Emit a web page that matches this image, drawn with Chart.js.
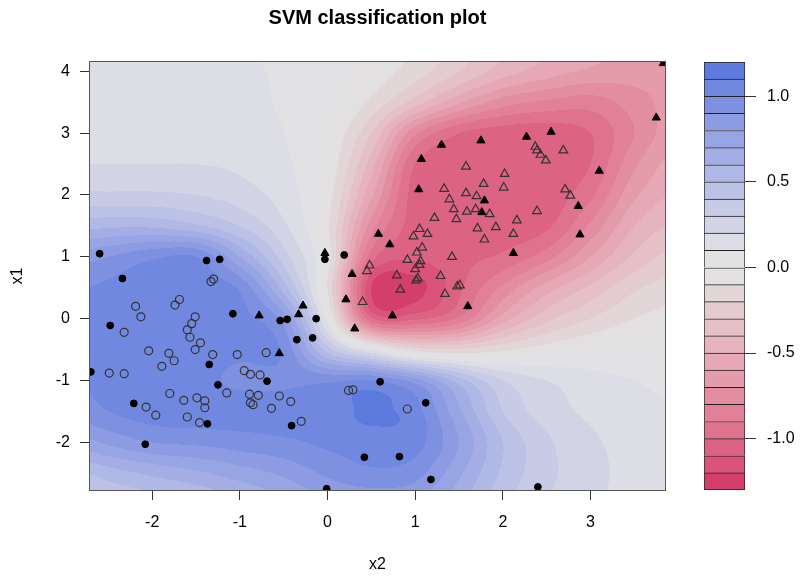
<!DOCTYPE html>
<html>
<head>
<meta charset="utf-8">
<script src="https://cdn.jsdelivr.net/npm/chart.js@4.4.1/dist/chart.umd.min.js"></script>
<style>
  html, body { margin: 0; padding: 0; background: #fff; }
  #wrap { position: relative; width: 801px; height: 576px; overflow: hidden; }
  #wrap canvas { position: absolute; top: 0; }
</style>
</head>
<body>
<div id="wrap">
  <canvas id="svmChart" width="801" height="576" style="left:0"></canvas>
  <canvas id="keyChart" width="111" height="576" style="left:690px"></canvas>
</div>
<script>
// axes: x2 across, x1 up
const x2Range = [-2.71, 3.85];
const x1Range = [-2.77, 4.15];
const x2Ticks = [-2, -1, 0, 1, 2, 3];
const x1Ticks = [-2, -1, 0, 1, 2, 3, 4];

// decision values, on a 0.5 grid
const gridX2 = [-3, -2.5, -2, -1.5, -1, -0.5, 0, 0.5, 1, 1.5, 2, 2.5, 3, 3.5, 4];
const gridX1 = [4.5, 4, 3.5, 3, 2.5, 2, 1.5, 1, 0.5, 0, -0.5, -1, -1.5, -2, -2.5, -3];
const gridZ = [
  [0.10, 0.10, 0.10, 0.10, 0.10, 0.08, 0.05, -0.03, -0.12, -0.25, -0.38, -0.48, -0.55, -0.60, -0.62],
  [0.12, 0.12, 0.12, 0.12, 0.11, 0.09, 0.05, -0.04, -0.15, -0.30, -0.45, -0.55, -0.62, -0.65, -0.65],
  [0.12, 0.12, 0.13, 0.13, 0.12, 0.09, 0.03, -0.12, -0.35, -0.58, -0.75, -0.82, -0.85, -0.75, -0.65],
  [0.13, 0.14, 0.15, 0.15, 0.14, 0.10, 0.00, -0.30, -0.78, -1.00, -1.05, -1.06, -1.00, -0.80, -0.62],
  [0.20, 0.20, 0.20, 0.20, 0.18, 0.12, -0.02, -0.45, -1.00, -1.06, -1.06, -1.06, -1.00, -0.72, -0.55],
  [0.32, 0.32, 0.32, 0.30, 0.25, 0.15, -0.05, -0.58, -1.05, -1.07, -1.07, -1.06, -0.92, -0.62, -0.48],
  [0.55, 0.58, 0.58, 0.52, 0.40, 0.22, -0.08, -0.75, -1.05, -1.06, -1.06, -1.02, -0.78, -0.50, -0.38],
  [0.82, 0.90, 0.98, 1.00, 0.70, 0.35, -0.05, -0.95, -1.08, -1.03, -0.98, -0.84, -0.60, -0.38, -0.25],
  [0.98, 1.02, 1.05, 1.05, 0.98, 0.55, -0.10, -1.20, -1.24, -1.02, -0.78, -0.55, -0.38, -0.22, -0.15],
  [1.00, 1.04, 1.05, 1.05, 1.03, 0.85, 0.05, -0.98, -1.02, -0.88, -0.55, -0.33, -0.20, -0.10, -0.05],
  [1.00, 1.05, 1.06, 1.05, 1.02, 0.98, 0.45, 0.10, -0.15, -0.18, -0.12, -0.05, 0.00, 0.02, 0.05],
  [0.98, 1.04, 1.05, 1.03, 0.98, 0.98, 0.98, 1.00, 0.85, 0.55, 0.30, 0.20, 0.14, 0.10, 0.08],
  [0.90, 1.00, 1.05, 1.06, 1.05, 1.05, 1.05, 1.12, 1.04, 0.72, 0.40, 0.25, 0.18, 0.13, 0.10],
  [0.72, 0.82, 0.90, 0.92, 0.95, 0.98, 1.02, 1.05, 1.04, 0.80, 0.50, 0.32, 0.22, 0.16, 0.12],
  [0.45, 0.55, 0.62, 0.68, 0.75, 0.82, 0.92, 0.98, 0.94, 0.72, 0.48, 0.33, 0.23, 0.17, 0.13],
  [0.30, 0.40, 0.45, 0.50, 0.58, 0.68, 0.78, 0.82, 0.80, 0.62, 0.42, 0.30, 0.22, 0.16, 0.12]
];

// contour levels and key
const levels = [-1.3, -1.2, -1.1, -1.0, -0.9, -0.8, -0.7, -0.6, -0.5, -0.4, -0.3, -0.2, -0.1,
  0, 0.1, 0.2, 0.3, 0.4, 0.5, 0.6, 0.7, 0.8, 0.9, 1.0, 1.1, 1.2];
const keyTicks = [-1, -0.5, 0, 0.5, 1];
const levelColors = [
  '#d43e6a', '#d95478', '#dc6482', '#df728c', '#e18096', '#e38ea0', '#e49baa', '#e5a8b4',
  '#e5b4be', '#e5c0c7', '#e4cbd0', '#e2d6d9', '#e3e0e1', '#e2e2e4', '#dcdde5', '#d2d4e6',
  '#c8cbe6', '#bcc1e6', '#b0b8e6', '#a4aee5', '#98a5e4', '#8c9be2', '#7e91e1', '#7088e0', '#5d7ade'
];

// class +1, not support vectors (open circles)
const circX2 = [-2.19, -2.13, -2.32, -1.69, -1.74, -1.30, -1.33, -1.51, -1.55, -1.60, -1.57, -1.45,
  -1.51, -1.31, -2.04, -1.81, -1.75, -1.89, -1.03, -0.70, -2.49, -2.32, -0.95, -0.88, -0.77, -1.80,
  -1.64, -1.49, -1.40, -1.40, -1.15, -0.89, -0.79, -0.88, -0.85, -0.55, -0.42, -0.64, -2.07, -1.96,
  -1.60, -1.46, -0.30, 0.24, 0.29, 0.91];
const circX1 = [0.20, 0.03, -0.22, 0.31, 0.22, 0.64, 0.60, 0.03, -0.08, -0.18, -0.30, -0.39,
  -0.50, -0.58, -0.52, -0.56, -0.68, -0.77, -0.58, -0.55, -0.88, -0.89, -0.84, -0.90, -0.91, -1.21,
  -1.32, -1.28, -1.33, -1.44, -1.20, -1.22, -1.24, -1.36, -1.39, -1.25, -1.34, -1.45, -1.43, -1.56,
  -1.59, -1.68, -1.66, -1.16, -1.15, -1.46];

// class +1 support vectors (filled circles)
const circSvX2 = [-2.60, -1.38, -1.23, -2.34, -1.08, -2.48, -0.54, -0.46, -0.13, -0.35, -0.17, -1.35,
  -2.70, -0.69, -1.25, 0.60, 1.12, -2.21, -1.37, -0.41, -2.08, 0.42, 0.82, 1.18, -0.01, 2.40, -0.03, 0.19];
const circSvX1 = [1.05, 0.94, 0.96, 0.65, 0.08, -0.11, -0.03, -0.01, 0.00, -0.34, -0.31, -0.74,
  -0.86, -1.01, -1.07, -1.02, -1.36, -1.37, -1.70, -1.73, -2.03, -2.24, -2.23, -2.60, -2.75, -2.72, 0.96, 1.03];

// class -1, not support vectors (open triangles)
const triX2 = [2.37, 2.39, 2.43, 2.49, 2.69, 1.58, 2.02, 1.78, 2.01, 1.33, 1.58, 1.70, 1.39, 2.71,
  2.77, 1.44, 1.59, 1.69, 1.85, 2.39, 1.22, 1.47, 2.16, 1.71, 1.92, 1.05, 1.14, 0.98, 1.79, 2.12,
  1.08, 1.02, 1.42, 0.91, 1.06, 1.00, 0.48, 0.45, 0.79, 1.29, 1.03, 1.01, 0.83, 1.48, 1.51, 1.34, 0.40, 1.05];
const triX1 = [2.78, 2.72, 2.65, 2.56, 2.72, 2.46, 2.34, 2.18, 2.12, 2.10, 2.03, 1.98, 1.93, 2.09,
  1.99, 1.77, 1.73, 1.77, 1.69, 1.74, 1.63, 1.61, 1.59, 1.46, 1.48, 1.45, 1.37, 1.33, 1.28, 1.37,
  1.15, 1.07, 1.00, 0.95, 0.93, 0.80, 0.86, 0.77, 0.70, 0.69, 0.65, 0.62, 0.47, 0.52, 0.54, 0.40, 0.27, 0.87];

// class -1 support vectors (filled triangles)
const triSvX2 = [1.30, 1.75, 2.27, 2.55, 1.07, 3.10, 1.04, 1.79, 1.76, 2.86, 2.88, 2.12, 0.58, 0.71,
  0.28, 0.21, 0.74, 1.60, 0.31, -0.28, -0.33, -0.78, -0.55, 3.75, -0.03, 3.83];
const triSvX1 = [2.81, 2.88, 2.94, 3.02, 2.58, 2.39, 2.09, 1.91, 1.72, 1.82, 1.36, 1.06, 1.37, 1.20,
  0.72, 0.31, 0.05, 0.20, -0.16, 0.21, 0.07, 0.05, -0.56, 3.25, 1.06, 4.13];

const FONT = "'Liberation Sans', Arial, Helvetica, sans-serif";
Chart.defaults.font.family = FONT;
Chart.defaults.color = '#000';

function cubic(p0, p1, p2, p3, t) {
  return p1 + 0.5 * t * (p2 - p0 + t * (2 * p0 - 5 * p1 + 4 * p2 - p3 + t * (3 * (p1 - p2) + p3 - p0)));
}

// smooth surface through the grid values
function surface(u, v) {
  const fx = (u - gridX2[0]) / (gridX2[1] - gridX2[0]);
  const fy = (v - gridX1[0]) / (gridX1[1] - gridX1[0]);
  const ix = Math.floor(fx), iy = Math.floor(fy);
  const tx = fx - ix, ty = fy - iy;
  const nr = gridZ.length, nc = gridZ[0].length;
  const at = (r, c) => gridZ[Math.min(nr - 1, Math.max(0, r))][Math.min(nc - 1, Math.max(0, c))];
  const rows = [];
  for (let r = -1; r <= 2; r++) {
    rows.push(cubic(at(iy + r, ix - 1), at(iy + r, ix), at(iy + r, ix + 1), at(iy + r, ix + 2), tx));
  }
  return cubic(rows[0], rows[1], rows[2], rows[3], ty);
}

function hexRgb(h) {
  return [1, 3, 5].map(i => parseInt(h.slice(i, i + 2), 16));
}

const contourFill = {
  id: 'contourFill',
  beforeDatasetsDraw(chart) {
    const { ctx, chartArea: a, scales: { x, y } } = chart;
    const left = Math.round(a.left), top = Math.round(a.top);
    const w = Math.round(a.right) - left, h = Math.round(a.bottom) - top;
    const img = ctx.createImageData(w, h);
    const rgb = levelColors.map(hexRgb);
    for (let j = 0; j < h; j++) {
      const v = y.getValueForPixel(top + j + 0.5);
      for (let i = 0; i < w; i++) {
        const u = x.getValueForPixel(left + i + 0.5);
        const z = surface(u, v);
        let k = 0;
        while (k < levelColors.length - 1 && z >= levels[k + 1]) k++;
        const c = rgb[k], p = (j * w + i) * 4;
        img.data[p] = c[0]; img.data[p + 1] = c[1]; img.data[p + 2] = c[2]; img.data[p + 3] = 255;
      }
    }
    ctx.putImageData(img, left, top);
  },
  afterDatasetsDraw(chart) {
    const { ctx, chartArea: a } = chart;
    ctx.save();
    ctx.strokeStyle = '#555';
    ctx.lineWidth = 1;
    ctx.strokeRect(a.left - 0.5, a.top - 0.5, a.right - a.left + 1, a.bottom - a.top + 1);
    ctx.restore();
  }
};

const pts = (xs, ys) => xs.map((x, i) => ({ x, y: ys[i] }));
const markSet = (data, style, fill, radius) => ({
  data,
  pointStyle: style,
  pointRadius: radius,
  pointBackgroundColor: fill,
  pointBorderColor: fill === 'transparent' ? '#333' : '#000',
  pointBorderWidth: fill === 'transparent' ? 1.2 : 1,
  showLine: false,
  clip: 0
});

new Chart(document.getElementById('svmChart'), {
  type: 'scatter',
  data: {
    datasets: [
      markSet(pts(circX2, circX1), 'circle', 'transparent', 4),
      markSet(pts(circSvX2, circSvX1), 'circle', '#000', 3.4),
      markSet(pts(triX2, triX1), 'triangle', 'transparent', 5),
      markSet(pts(triSvX2, triSvX1), 'triangle', '#000', 4.7)
    ]
  },
  options: {
    responsive: false,
    animation: false,
    events: [],
    layout: { padding: { left: 0, right: 136, top: 0, bottom: 0 } },
    plugins: {
      legend: { display: false },
      tooltip: { enabled: false },
      title: {
        display: true,
        fullSize: false,
        text: 'SVM classification plot',
        font: { size: 20, weight: 'bold' },
        color: '#000',
        padding: { top: 6, bottom: 32 }
      }
    },
    scales: {
      x: {
        type: 'linear',
        min: x2Range[0],
        max: x2Range[1],
        afterBuildTicks: s => { s.ticks = x2Ticks.map(value => ({ value })); },
        afterFit: s => { s.height = 86; },
        ticks: { font: { size: 16 }, padding: 13, maxRotation: 0, callback: v => String(v) },
        grid: { drawOnChartArea: false, tickLength: 10, color: '#333' },
        border: { display: true, color: '#555' },
        title: { display: true, text: 'x2', font: { size: 16 }, padding: { top: 0, bottom: 2 } }
      },
      y: {
        type: 'linear',
        min: x1Range[0],
        max: x1Range[1],
        afterBuildTicks: s => { s.ticks = x1Ticks.map(value => ({ value })); },
        afterFit: s => { s.width = 90; },
        ticks: { font: { size: 16 }, padding: 10, callback: v => String(v) },
        grid: { drawOnChartArea: false, tickLength: 10, color: '#333' },
        border: { display: true, color: '#555' },
        title: { display: true, text: 'x1', font: { size: 16 }, padding: { top: 8, bottom: 0 } }
      }
    }
  },
  plugins: [contourFill]
});

// colour key
new Chart(document.getElementById('keyChart'), {
  type: 'bar',
  data: {
    labels: [''],
    datasets: levelColors.map((c, i) => ({
      data: [[levels[i], levels[i + 1]]],
      backgroundColor: c,
      borderColor: '#222',
      borderWidth: i === 0 ? 1 : { top: 1, left: 1, right: 1, bottom: 0 },
      borderSkipped: false,
      grouped: false,
      barPercentage: 1,
      categoryPercentage: 1
    }))
  },
  options: {
    responsive: false,
    animation: false,
    events: [],
    layout: { padding: { left: 14, right: 0, top: 62, bottom: 86 } },
    plugins: { legend: { display: false }, tooltip: { enabled: false } },
    scales: {
      x: { display: false },
      y: {
        position: 'right',
        min: levels[0],
        max: levels[levels.length - 1],
        afterBuildTicks: s => { s.ticks = keyTicks.map(value => ({ value })); },
        afterFit: s => { s.width = 56; },
        ticks: { font: { size: 16 }, padding: 11, callback: v => v.toFixed(1) },
        grid: { drawOnChartArea: false, tickLength: 11, color: '#333' },
        border: { display: false }
      }
    }
  }
});
</script>
</body>
</html>
